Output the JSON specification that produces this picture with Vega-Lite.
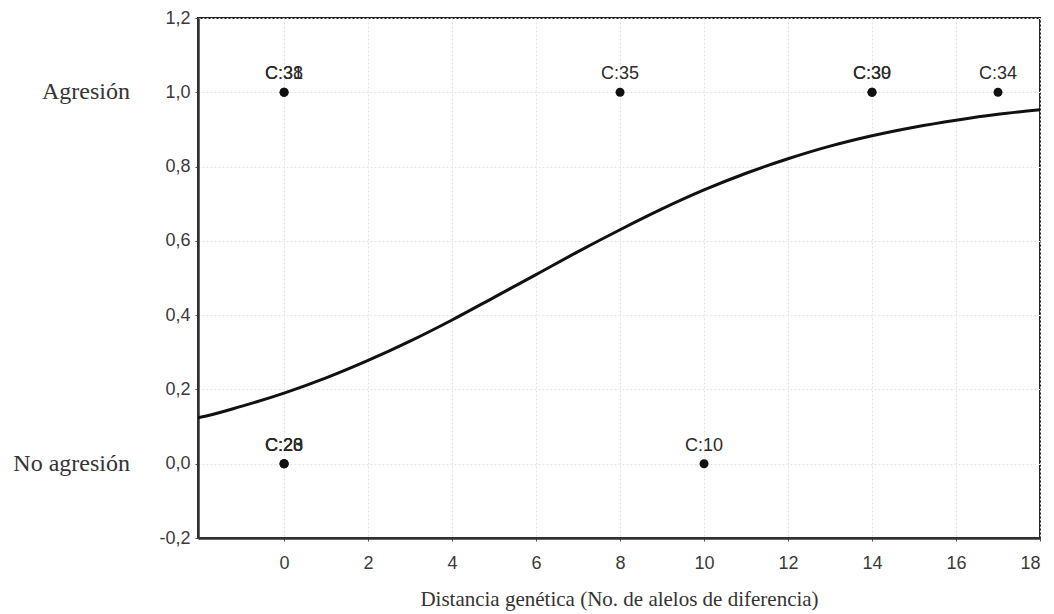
{
  "$schema": "https://vega.github.io/schema/vega-lite/v6.json",
  "width": 842,
  "height": 520,
  "autosize": {"type": "none"},
  "padding": {"left": 198, "top": 18, "right": 14, "bottom": 76},
  "background": "#ffffff",
  "config": {
    "view": {"stroke": "#222222", "strokeWidth": 2},
    "axis": {
      "labelFont": "Liberation Sans",
      "labelColor": "#3a3a3a",
      "domainColor": "#333333",
      "domainWidth": 2.5,
      "tickColor": "#555555",
      "tickSize": 3,
      "gridColor": "#e4e4e4",
      "gridDash": [2, 2],
      "titleFont": "Liberation Serif",
      "titleFontWeight": "normal",
      "titleColor": "#333333"
    }
  },
  "datasets": {
    "curve": [
      {"x": -2.05, "p": 0.124}, {"x": -2, "p": 0.125}, {"x": -1, "p": 0.155}, {"x": 0, "p": 0.19},
      {"x": 1, "p": 0.231}, {"x": 2, "p": 0.278}, {"x": 3, "p": 0.33}, {"x": 4, "p": 0.387},
      {"x": 5, "p": 0.448}, {"x": 6, "p": 0.509}, {"x": 7, "p": 0.571}, {"x": 8, "p": 0.63},
      {"x": 9, "p": 0.686}, {"x": 10, "p": 0.737}, {"x": 11, "p": 0.782}, {"x": 12, "p": 0.821},
      {"x": 13, "p": 0.855}, {"x": 14, "p": 0.883}, {"x": 15, "p": 0.906}, {"x": 16, "p": 0.925},
      {"x": 17, "p": 0.941}, {"x": 18, "p": 0.953}
    ],
    "points": [
      {"x": 0, "y": 1, "label": "C:31"}, {"x": 0, "y": 1, "label": "C:38"},
      {"x": 8, "y": 1, "label": "C:35"},
      {"x": 14, "y": 1, "label": "C:30"}, {"x": 14, "y": 1, "label": "C:39"},
      {"x": 17, "y": 1, "label": "C:34"},
      {"x": 0, "y": 0, "label": "C:20"}, {"x": 0, "y": 0, "label": "C:23"}, {"x": 0, "y": 0, "label": "C:28"},
      {"x": 10, "y": 0, "label": "C:10"}
    ],
    "cats": [
      {"y": 1, "name": "Agresión"},
      {"y": 0, "name": "No agresión"}
    ]
  },
  "layer": [
    {
      "data": {"name": "curve"},
      "mark": {"type": "line", "color": "#111111", "strokeWidth": 3, "interpolate": "monotone", "clip": true},
      "encoding": {
        "x": {
          "field": "x", "type": "quantitative",
          "scale": {"domain": [-2.05, 18], "nice": false, "zero": false},
          "axis": {
            "values": [0, 2, 4, 6, 8, 10, 12, 14, 16, 18],
            "title": "Distancia genética (No. de alelos de diferencia)",
            "titleFontSize": 21,
            "titlePadding": 16,
            "labelFontSize": 18,
            "labelPadding": 13
          }
        },
        "y": {
          "field": "p", "type": "quantitative",
          "scale": {"domain": [-0.2, 1.2], "nice": false, "zero": false},
          "axis": {
            "values": [-0.2, 0, 0.2, 0.4, 0.6, 0.8, 1.0, 1.2],
            "labelExpr": "replace(replace(format(datum.value, '.1f'), '.', ','), '−', '-')",
            "title": null,
            "labelFontSize": 18,
            "labelPadding": 5
          }
        }
      }
    },
    {
      "data": {"name": "points"},
      "mark": {"type": "circle", "color": "#111111", "opacity": 1, "size": 80},
      "encoding": {
        "x": {"field": "x", "type": "quantitative"},
        "y": {"field": "y", "type": "quantitative"}
      }
    },
    {
      "data": {"name": "points"},
      "mark": {"type": "text", "font": "Liberation Sans", "fontSize": 18, "color": "#2a2a2a", "dy": -18, "align": "center"},
      "encoding": {
        "x": {"field": "x", "type": "quantitative"},
        "y": {"field": "y", "type": "quantitative"},
        "text": {"field": "label"}
      }
    },
    {
      "data": {"name": "cats"},
      "mark": {"type": "text", "font": "Liberation Serif", "fontSize": 24, "color": "#333333", "align": "right", "baseline": "middle", "dx": -68},
      "encoding": {
        "x": {"datum": -2.05, "type": "quantitative"},
        "y": {"field": "y", "type": "quantitative"},
        "text": {"field": "name"}
      }
    }
  ]
}
